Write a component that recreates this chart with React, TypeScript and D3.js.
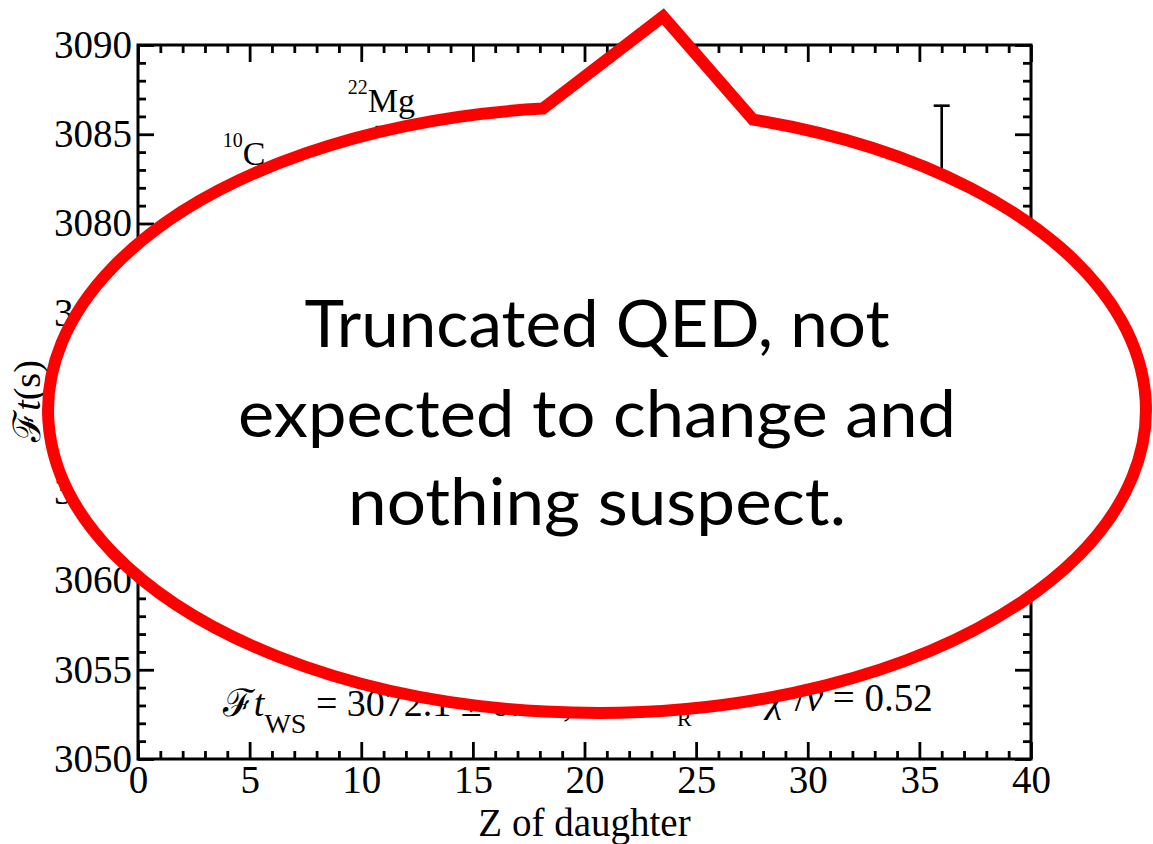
import { useEffect, useRef } from "react";
import * as d3 from "d3";

// Z of daughter, Ft values (s) and their errors for the superallowed transitions
const zDaughter = [5, 7, 11, 12, 16, 17, 18, 20, 22, 24, 26, 30, 36];
const ftValues = [3075.7, 3077.6, 3078.0, 3072.9, 3070.7, 3065.6, 3071.6, 3072.4, 3074.1, 3071.2, 3069.8, 3071.5, 3076.0];
const ftErrors = [4.4, 1.7, 7.4, 1.0, 1.8, 8.4, 2.0, 2.3, 2.0, 2.1, 2.6, 6.7, 10.6];

const xTicks = [0, 5, 10, 15, 20, 25, 30, 35, 40];
const yTicks = [3050, 3055, 3060, 3065, 3070, 3075, 3080, 3085, 3090];

const calloutLines = ["Truncated QED, not", "expected to change and", "nothing suspect."];
const calloutWidths = [585, 718, 498];

const SERIF = "'Liberation Serif', 'Times New Roman', serif";

const App = () => {
  const svgRef = useRef<SVGSVGElement>(null);

  useEffect(() => {
    const W = 1153;
    const H = 844;
    const margin = { top: 45, right: 122, bottom: 85, left: 138 };

    const svg = d3.select(svgRef.current);
    svg.selectAll("*").remove();

    const x = d3.scaleLinear().domain([0, 40]).range([margin.left, W - margin.right]);
    const y = d3.scaleLinear().domain([3050, 3090]).range([H - margin.bottom, margin.top]);
    const [x0, x1] = x.range();
    const [y0, y1] = y.range();

    const minorX = d3.range(0, 41).filter(v => v % 5 !== 0);
    const minorY = d3.range(3050, 3091).filter(v => v % 5 !== 0);

    const styleAxis = g => {
      g.select(".domain").remove();
      g.selectAll(".tick line").attr("stroke", "#000").attr("stroke-width", 2.8);
      g.selectAll("text")
        .attr("fill", "#000")
        .style("font-family", SERIF)
        .style("font-size", "39px");
    };

    const addAxis = (axis, transform) =>
      svg.append("g").attr("transform", transform).call(axis).call(styleAxis);

    // major + minor ticks, pointing inwards on all four sides
    addAxis(d3.axisBottom(x).tickValues(xTicks).tickSizeInner(-17).tickSizeOuter(0).tickPadding(6).tickFormat(d3.format("d")), `translate(0,${y0})`);
    addAxis(d3.axisBottom(x).tickValues(minorX).tickSize(-8).tickFormat(() => ""), `translate(0,${y0})`);
    addAxis(d3.axisTop(x).tickValues(xTicks).tickSize(-17).tickFormat(() => ""), `translate(0,${y1})`);
    addAxis(d3.axisTop(x).tickValues(minorX).tickSize(-8).tickFormat(() => ""), `translate(0,${y1})`);
    addAxis(d3.axisLeft(y).tickValues(yTicks).tickSizeInner(-16).tickSizeOuter(0).tickPadding(6).tickFormat(d3.format("d")), `translate(${x0},0)`);
    addAxis(d3.axisLeft(y).tickValues(minorY).tickSize(-8).tickFormat(() => ""), `translate(${x0},0)`);
    addAxis(d3.axisRight(y).tickValues(yTicks).tickSize(-16).tickFormat(() => ""), `translate(${x1},0)`);
    addAxis(d3.axisRight(y).tickValues(minorY).tickSize(-8).tickFormat(() => ""), `translate(${x1},0)`);

    // frame
    svg.append("rect")
      .attr("x", x0).attr("y", y1)
      .attr("width", x1 - x0).attr("height", y0 - y1)
      .attr("fill", "none").attr("stroke", "#000").attr("stroke-width", 3);

    // axis titles
    svg.append("text")
      .attr("x", (x0 + x1) / 2).attr("y", 836)
      .attr("text-anchor", "middle")
      .style("font-family", SERIF).style("font-size", "39px")
      .text("Z of daughter");

    const yl = svg.append("text")
      .attr("transform", `translate(40,${(y0 + y1) / 2 - 1}) rotate(-90)`)
      .attr("text-anchor", "middle")
      .style("font-family", SERIF).style("font-size", "38px");
    yl.append("tspan").text("ℱ");
    yl.append("tspan").style("font-style", "italic").text("t");
    yl.append("tspan").text("(s)");

    // data with error bars
    const pts = zDaughter.map((z, i) => ({ z, v: ftValues[i], e: ftErrors[i] }));
    const gData = svg.append("g").attr("stroke", "#000").attr("stroke-width", 2.6);
    gData.selectAll("line.bar").data(pts).join("line")
      .attr("class", "bar")
      .attr("x1", d => x(d.z)).attr("x2", d => x(d.z))
      .attr("y1", d => y(d.v + d.e)).attr("y2", d => y(d.v - d.e));
    gData.selectAll("line.capT").data(pts).join("line")
      .attr("class", "capT")
      .attr("x1", d => x(d.z) - 8).attr("x2", d => x(d.z) + 8)
      .attr("y1", d => y(d.v + d.e)).attr("y2", d => y(d.v + d.e));
    gData.selectAll("line.capB").data(pts).join("line")
      .attr("class", "capB")
      .attr("x1", d => x(d.z) - 8).attr("x2", d => x(d.z) + 8)
      .attr("y1", d => y(d.v - d.e)).attr("y2", d => y(d.v - d.e));
    gData.selectAll("circle").data(pts).join("circle")
      .attr("cx", d => x(d.z)).attr("cy", d => y(d.v)).attr("r", 6)
      .attr("fill", "#000");

    // nuclide labels
    const nuclide = (zx, fy, mass, sym) => {
      const t = svg.append("text")
        .attr("x", x(zx)).attr("y", y(fy))
        .style("font-family", SERIF);
      t.append("tspan").style("font-size", "20px").attr("dy", -18).text(mass);
      t.append("tspan").style("font-size", "34px").attr("dy", 18).text(sym);
    };
    nuclide(3.8, 3083.3, "10", "C");
    nuclide(9.4, 3086.25, "22", "Mg");

    // fit result
    const ft = svg.append("text")
      .attr("x", x(3.8)).attr("y", y(3052.4))
      .style("font-family", SERIF).style("font-size", "38px");
    ft.append("tspan").text("ℱ");
    ft.append("tspan").style("font-style", "italic").text("t");
    ft.append("tspan").style("font-size", "28px").attr("dy", 17).text("WS");
    ft.append("tspan").attr("dy", -17).text(" = 3072.1 ± 0.7 s, with δ");
    ft.append("tspan").style("font-size", "22px").attr("dy", 10).text("R");

    const chi = svg.append("text")
      .attr("x", x(35.6)).attr("y", y(3052.7))
      .attr("text-anchor", "end")
      .style("font-family", SERIF).style("font-size", "39px");
    chi.append("tspan").style("font-style", "italic").text("χ");
    chi.append("tspan").style("font-size", "22px").attr("dy", -16).text("2");
    chi.append("tspan").attr("dy", 16).text("/");
    chi.append("tspan").style("font-style", "italic").text("ν");
    chi.append("tspan").text(" = 0.52");

    // speech-bubble callout
    const cx = x(20.56), cy = y(3069.55);
    const rx = x(20.56 + 24.59) - cx;
    const ry = y(3069.55 - 16.97) - cy;
    const onTop = zx => {
      const px = x(zx);
      return cy - ry * Math.sqrt(1 - ((px - cx) / rx) ** 2);
    };
    const bl = [x(18.14), onTop(18.14)];
    const br = [x(27.55), onTop(27.55)];
    const apex = [x(23.52), y(3091.6)];
    const bubble = `M${bl[0]},${bl[1]}L${apex[0]},${apex[1]}L${br[0]},${br[1]}A${rx},${ry} 0 1 1 ${bl[0]},${bl[1]}Z`;
    svg.append("path")
      .attr("d", bubble)
      .attr("fill", "#fff")
      .attr("stroke", "#ff0000")
      .attr("stroke-width", 12)
      .attr("stroke-linejoin", "miter")
      .attr("stroke-miterlimit", 10);

    const baselines = [347, 437, 525];
    svg.append("g").selectAll("text").data(calloutLines).join("text")
      .attr("x", cx)
      .attr("y", (d, i) => baselines[i])
      .attr("text-anchor", "middle")
      .attr("textLength", (d, i) => calloutWidths[i])
      .attr("lengthAdjust", "spacingAndGlyphs")
      .style("font-family", "Lato, 'Open Sans', sans-serif")
      .style("font-size", "65px")
      .attr("fill", "#000")
      .text(d => d);

    return () => {
      svg.selectAll("*").remove();
    };
  }, []);

  return (
    <svg
      ref={svgRef}
      width={1153}
      height={844}
      style={{ position: "absolute", left: 0, top: 0, background: "#fff" }}
    />
  );
};

export default App;
